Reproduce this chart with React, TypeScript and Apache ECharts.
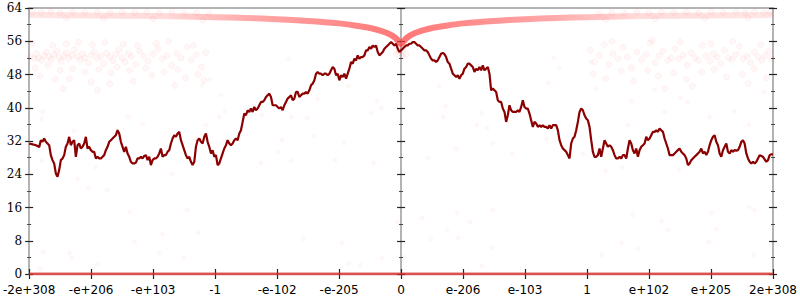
import React, { useEffect, useRef } from "react";
import * as echarts from "echarts";

const xTickLabels = ["-2e+308", "-e+206", "-e+103", "-1", "-e-102", "-e-205", "0", "e-206", "e-103", "1", "e+102", "e+205", "2e+308"];

// dark red walk, negative half (left to centre)
const walkLeft = [
  31.3, 31.3, 31.2, 31.1, 31.0, 30.8, 30.5, 32.2, 31.8, 32.6,
  31.8, 31.4, 31.0, 28.6, 27.4, 26.6, 24.2, 23.4, 25.0, 27.4,
  27.8, 28.6, 30.6, 31.4, 33.0, 31.0, 31.8, 32.2, 28.2, 31.0,
  31.4, 30.2, 30.6, 31.4, 33.0, 30.2, 30.6, 29.8, 29.4, 29.4,
  27.8, 28.2, 27.8, 27.8, 28.2, 28.6, 29.8, 30.6, 31.8, 32.2,
  32.6, 33.0, 33.4, 34.6, 33.8, 31.8, 30.6, 29.4, 30.6, 29.0,
  28.2, 27.0, 26.6, 26.6, 26.8, 27.8, 27.8, 28.2, 27.8, 28.4,
  28.6, 27.4, 28.2, 26.2, 27.4, 27.8, 27.8, 28.2, 29.0, 30.2,
  28.2, 28.6, 28.6, 29.4, 29.8, 31.4, 32.6, 33.4, 33.0, 33.8,
  34.2, 32.2, 31.0, 29.8, 28.6, 27.8, 28.2, 27.0, 26.2, 27.0,
  30.6, 32.2, 32.6, 31.8, 31.4, 33.0, 33.8, 31.8, 30.6, 29.0,
  29.8, 28.2, 28.6, 26.2, 26.6, 27.8, 29.0, 30.2, 31.0, 32.2,
  31.4, 31.0, 31.4, 32.2, 32.6, 32.2, 33.8, 34.6, 36.6, 38.6,
  38.2, 39.4, 39.0, 39.8, 39.0, 40.2, 39.4, 39.8, 40.6, 41.4,
  41.4, 41.8, 42.6, 43.0, 43.4, 42.6, 40.6, 40.6, 40.6, 40.2,
  39.8, 40.2, 39.4, 40.6, 41.4, 42.2, 42.6, 43.0, 41.8, 42.2,
  43.8, 43.8, 42.6, 43.0, 43.4, 43.4, 43.8, 43.4, 44.2, 45.4,
  45.8, 46.6, 48.2, 48.6, 48.2, 48.2, 47.8, 48.2, 48.2, 47.8,
  48.2, 49.0, 49.8, 49.4, 47.8, 48.2, 46.6, 47.8, 47.4, 48.2,
  47.0, 48.2, 49.4, 51.0, 50.6, 51.8, 51.4, 52.6, 51.8, 52.2,
  52.2, 52.6, 53.8, 53.8, 54.6, 54.2, 55.0, 54.6, 55.0, 53.4,
  52.6, 53.0, 53.4, 54.2, 54.6, 55.0, 55.4, 55.8, 55.4, 55.0,
  55.4, 54.2, 53.4, 53.8,
];

// dark red walk, positive half (centre to right)
const walkRight = [
  54.2, 54.6, 55.0, 55.0, 55.4, 55.4, 55.8, 55.8, 55.4, 55.0,
  55.0, 54.6, 54.2, 53.8, 53.8, 53.4, 52.6, 51.8, 51.4, 51.4,
  51.0, 51.4, 52.2, 53.0, 53.2, 52.9, 52.2, 51.0, 50.6, 49.4,
  48.2, 47.8, 47.4, 47.8, 47.0, 47.8, 48.2, 49.4, 49.8, 50.6,
  50.6, 50.2, 49.8, 48.6, 49.4, 49.0, 49.8, 49.0, 50.2, 49.0,
  49.4, 49.8, 48.2, 44.2, 44.6, 44.2, 43.8, 41.8, 41.4, 41.4,
  39.8, 39.0, 36.6, 38.2, 40.6, 39.4, 39.0, 39.0, 39.0, 39.4,
  39.0, 40.2, 41.8, 40.2, 39.8, 39.8, 38.6, 37.0, 35.4, 36.6,
  36.2, 35.4, 35.8, 35.4, 35.8, 35.4, 35.4, 35.0, 35.8, 35.0,
  35.8, 35.8, 35.8, 34.6, 32.2, 31.0, 30.2, 29.8, 29.4, 28.6,
  27.8, 31.4, 32.6, 33.0, 34.6, 36.6, 39.0, 39.8, 39.4, 38.2,
  37.4, 37.0, 35.4, 32.2, 29.4, 28.2, 28.2, 28.6, 30.2, 28.2,
  30.2, 32.2, 31.4, 30.6, 31.0, 30.6, 29.8, 28.6, 27.8, 27.8,
  28.2, 27.8, 28.6, 28.6, 27.8, 30.2, 32.2, 31.4, 29.8, 29.0,
  30.2, 28.2, 29.8, 30.6, 31.0, 31.4, 33.0, 32.2, 32.6, 33.4,
  34.2, 34.2, 34.6, 34.2, 35.0, 34.6, 34.2, 32.6, 31.4, 30.2,
  28.6, 28.6, 28.6, 29.0, 29.4, 29.8, 30.2, 29.4, 29.0, 28.6,
  27.8, 26.2, 26.6, 27.4, 27.8, 28.2, 28.6, 29.0, 29.4, 30.2,
  29.0, 29.4, 28.6, 29.4, 31.0, 32.2, 33.0, 33.4, 31.8, 31.0,
  29.0, 28.2, 29.8, 30.6, 31.4, 29.4, 29.0, 29.8, 29.4, 29.8,
  29.7, 29.8, 30.6, 31.8, 32.2, 31.4, 29.0, 27.8, 27.0, 26.6,
  27.0, 26.6, 27.0, 27.8, 28.6, 28.4, 28.2, 27.6, 27.0, 27.4,
  28.6, 28.8, 28.8,
];

// pale red V-shaped band
const curveX = [-6, -5, -4, -3, -2.5, -2, -1.5, -1, -0.75, -0.5, -0.35, -0.2, -0.1, -0.04, 0, 0.04, 0.1, 0.2, 0.35, 0.5, 0.75, 1, 1.5, 2, 2.5, 3, 4, 5, 6];
const curveY = [62.3, 62.2, 62.1, 61.8, 61.6, 61.3, 60.9, 60.3, 59.8, 59.2, 58.6, 57.8, 56.9, 56.0, 55.3, 56.0, 56.9, 57.8, 58.6, 59.2, 59.8, 60.3, 60.9, 61.3, 61.6, 61.8, 62.1, 62.2, 62.3];

// pale red band along zero
const zeroX = [-6, 6];
const zeroY = [0, 0];

// faint scatter clouds
const leftCluster = [
  [-5.98, 52.4], [-5.92, 51.8], [-5.88, 53.0], [-5.85, 52.0], [-5.80, 51.4], [-5.76, 52.6], [-5.72, 53.4], [-5.68, 52.2],
  [-5.64, 51.6], [-5.60, 52.8], [-5.55, 53.6], [-5.52, 52.1], [-5.48, 51.2], [-5.44, 52.5], [-5.40, 53.2], [-5.36, 51.9],
  [-5.31, 52.7], [-5.27, 54.0], [-5.22, 52.3], [-5.18, 51.5], [-5.14, 53.0], [-5.10, 52.0], [-5.05, 50.8], [-5.00, 52.6],
  [-4.95, 53.5], [-4.90, 51.9], [-4.85, 52.4], [-4.80, 50.6], [-4.75, 53.1], [-4.70, 52.2], [-4.65, 51.3], [-4.60, 52.8],
  [-4.55, 54.0], [-4.50, 52.0], [-4.45, 51.0], [-4.40, 53.0], [-4.35, 52.3], [-4.28, 50.4], [-4.22, 53.6], [-4.15, 52.4],
  [-4.08, 51.2], [-4.00, 52.9], [-3.92, 54.2], [-3.85, 51.8], [-3.78, 52.5], [-3.70, 50.2], [-3.62, 53.1], [-3.55, 52.0],
  [-3.45, 54.6], [-3.38, 51.5], [-3.30, 52.7], [-3.22, 49.8], [-3.15, 53.3],
  [-5.95, 55.6], [-5.90, 49.6], [-5.70, 50.2], [-5.62, 55.0], [-5.50, 49.0], [-5.40, 55.4], [-5.30, 49.4], [-5.20, 55.8],
  [-5.10, 48.6], [-4.98, 55.2], [-4.88, 49.2], [-4.78, 55.7], [-4.68, 48.4], [-4.58, 49.8], [-4.48, 55.3], [-4.38, 48.9],
  [-4.25, 55.0], [-4.12, 49.5], [-4.02, 47.8], [-3.95, 55.5], [-3.82, 48.6], [-3.75, 56.0], [-3.60, 49.2], [-3.48, 47.2],
  [-3.35, 55.0], [-3.28, 48.0], [-3.18, 46.6], [-5.82, 47.6], [-5.58, 46.8], [-5.35, 47.0], [-5.00, 46.2], [-4.70, 45.8],
  [-4.32, 46.4], [-3.65, 45.4], [-5.45, 44.6], [-4.90, 44.2],
];
const rightCluster = [
  [3.05, 53.8], [3.12, 51.0], [3.20, 52.6], [3.28, 55.2], [3.35, 50.4], [3.42, 53.0], [3.50, 51.8], [3.58, 54.6],
  [3.65, 52.2], [3.72, 49.6], [3.80, 53.4], [3.88, 51.6], [3.95, 52.8], [4.02, 55.6], [4.10, 50.8], [4.16, 52.4],
  [4.22, 53.6], [4.30, 51.4], [4.36, 52.0], [4.42, 54.2], [4.48, 51.8], [4.55, 52.6], [4.62, 50.2], [4.68, 53.2],
  [4.74, 52.0], [4.80, 51.4], [4.86, 55.0], [4.92, 52.4], [4.98, 51.2], [5.04, 53.0], [5.10, 52.2], [5.16, 50.6],
  [5.22, 53.8], [5.28, 52.0], [5.34, 51.6], [5.40, 52.8], [5.46, 54.8], [5.52, 51.8], [5.58, 52.4], [5.64, 50.8],
  [5.70, 53.4], [5.76, 52.2], [5.82, 51.4], [5.88, 52.6], [5.94, 53.6], [5.98, 51.8],
  [3.10, 48.2], [3.30, 47.0], [3.55, 48.8], [3.75, 46.4], [3.98, 49.0], [4.15, 47.6], [4.40, 48.4], [4.60, 46.8],
  [4.85, 48.6], [5.05, 49.2], [5.25, 47.4], [5.50, 48.0], [5.70, 49.4], [5.90, 47.2], [4.05, 56.2], [4.50, 55.8],
  [5.00, 55.4], [5.35, 56.0], [5.80, 55.2], [3.40, 56.0], [4.70, 45.2], [5.60, 45.8], [4.25, 44.6],
];
const topBand = [
  [-5.95, 63.0], [-5.80, 62.9], [-5.65, 63.1], [-5.50, 62.8], [-5.30, 63.0], [-5.10, 62.9], [-4.90, 63.1], [-4.70, 62.8],
  [-4.50, 63.0], [-4.30, 62.9], [-4.10, 63.1], [-3.90, 62.8], [-3.70, 63.0], [-3.50, 62.7], [-3.30, 62.9], [-3.10, 62.6],
  [-5.40, 61.6], [-4.80, 61.5], [-4.00, 61.4], [-3.20, 61.1],
  [5.95, 63.0], [5.85, 62.9], [5.70, 63.1], [5.55, 62.8], [5.40, 63.0], [5.20, 62.9], [5.00, 63.1], [4.80, 62.8],
  [4.60, 63.0], [4.40, 62.9], [4.20, 63.0], [4.00, 62.8], [3.80, 63.0], [3.60, 62.7], [3.40, 62.9], [3.20, 62.6],
  [5.60, 61.6], [4.90, 61.5], [4.10, 61.4], [3.30, 61.2],
];
const centerCloud = [
  [-0.08, 55.0], [-0.05, 54.2], [-0.03, 53.4], [0.0, 54.6], [0.03, 53.8], [0.06, 55.2], [0.08, 52.8], [-0.07, 53.0],
  [0.02, 52.4], [-0.02, 55.6],
];
const sparse = [
  [-4.38, 14.9], [-4.30, 7.7], [-3.85, 9.6], [-3.90, 5.0], [-5.35, 5.0], [-5.32, 3.8], [-4.90, 2.4], [-5.82, 1.2],
  [-3.45, 15.4], [-3.27, 9.9], [-3.51, 3.8], [-5.77, 5.3], [-1.58, 8.4], [-0.95, 7.5], [-0.84, 2.6], [-0.66, 2.2],
  [-0.31, 3.8], [-0.06, 12.5], [0.06, 4.1], [0.34, 13.5], [0.48, 8.4], [0.74, 10.6], [0.90, 14.7], [0.92, 8.7],
  [1.11, 12.5], [1.30, 1.9], [1.48, 15.4], [1.47, 6.3], [3.74, 14.2], [4.20, 12.8], [4.30, 10.6], [3.56, 7.5],
  [3.82, 6.0], [5.01, 14.7], [5.09, 10.8], [4.96, 7.7], [5.69, 4.6], [5.62, 16.1], [5.70, 15.4], [3.24, 4.6],
  [-5.78, 39.0], [-5.80, 37.3], [-5.28, 34.4], [-4.40, 37.8], [-4.17, 36.1], [-5.80, 27.2], [-4.93, 25.7], [-5.22, 22.9],
  [-5.04, 20.7], [-4.74, 20.2], [-4.16, 26.2], [-3.70, 24.1], [-3.30, 32.5], [-3.08, 46.9], [-3.21, 45.5], [-2.90, 43.1],
  [-2.84, 39.2], [-3.14, 35.9], [-2.93, 37.8], [-2.24, 38.3], [-1.82, 51.7], [-1.35, 42.1], [-0.85, 45.2], [-0.39, 41.6],
  [-0.48, 38.7], [-0.32, 39.9], [-1.51, 37.5], [-1.77, 37.8], [-1.92, 32.2], [-1.40, 33.2], [-1.97, 29.4], [-1.77, 27.2],
  [-1.06, 27.4], [-0.92, 31.5], [-2.26, 26.7], [-0.45, 26.7], [2.46, 52.0], [2.55, 49.6], [3.06, 51.0], [2.38, 46.0],
  [3.14, 44.5], [0.61, 45.2], [0.72, 40.4], [1.30, 38.7], [0.68, 37.8], [1.22, 35.9], [1.39, 35.1], [1.48, 31.5],
  [0.89, 30.1], [1.80, 28.9], [2.35, 32.5], [2.66, 30.8], [2.93, 28.9], [0.43, 27.9], [3.72, 41.6], [4.09, 44.3],
  [4.51, 42.3], [4.62, 41.4], [4.25, 39.0], [4.98, 37.8], [5.38, 39.2], [5.61, 35.9], [5.85, 43.8], [3.66, 35.9],
  [3.30, 24.8], [3.56, 25.7], [4.48, 25.0], [5.09, 33.2],
];

export default function App() {
  const ref = useRef<HTMLDivElement>(null);
  useEffect(() => {
    if (!ref.current) return;
    const chart = echarts.init(ref.current, undefined, { renderer: "svg" });
    const walk = [...walkLeft, ...walkRight];
    const n = walk.length;
    const walkData = walk.map((v, i) => [-6 + (12 * i) / (n - 1), v]);
    const curveData = curveX.map((x, i) => [x, curveY[i]]);
    const zeroData = zeroX.map((x, i) => [x, zeroY[i]]);
    const dense = [...leftCluster, ...rightCluster, ...topBand, ...centerCloud];

    const tickStyle = { color: "#222", width: 1.2 };
    const minorStyle = { color: "#444", width: 1 };
    const gray = { color: "#b3b3b3", width: 2 };
    const yCommon = (extra: any) => ({
      type: "value",
      min: 0,
      max: 64,
      interval: 8,
      splitLine: { show: false },
      axisLabel: { show: false },
      ...extra,
    });
    const yLabel = {
      show: true,
      margin: 7,
      color: "#000",
      fontFamily: "DejaVu Serif",
      fontSize: 12,
    };
    const xCommon = (extra: any) => ({
      type: "value",
      min: -6,
      max: 6,
      interval: 1,
      splitLine: { show: false },
      axisLabel: { show: false },
      ...extra,
    });

    chart.setOption({
      animation: false,
      backgroundColor: "#fff",
      grid: { left: 28, right: 27, top: 8, bottom: 26 },
      xAxis: [
        xCommon({
          position: "bottom",
          axisLine: { show: true, onZero: false, lineStyle: gray },
          axisTick: { show: true, length: 5, lineStyle: tickStyle },
          axisLabel: {
            show: true,
            margin: 10,
            color: "#000",
            fontFamily: "DejaVu Sans",
            fontSize: 12,
            showMinLabel: true,
            showMaxLabel: true,
            formatter: (v: number) => xTickLabels[Math.round(v) + 6],
          },
        }),
        xCommon({
          position: "bottom",
          axisLine: { show: false, onZero: false },
          axisTick: { show: true, inside: true, length: 5, lineStyle: tickStyle },
        }),
        xCommon({
          position: "top",
          axisLine: { show: true, onZero: false, lineStyle: gray },
          axisTick: { show: false },
        }),
      ],
      yAxis: [
        yCommon({
          position: "left",
          axisLine: { show: true, onZero: false, lineStyle: gray },
          axisTick: { show: true, length: 4, lineStyle: tickStyle },
          minorTick: { show: true, splitNumber: 2, length: 2, lineStyle: minorStyle },
          axisLabel: yLabel,
        }),
        yCommon({
          position: "left",
          axisLine: { show: false, onZero: false },
          axisTick: { show: true, inside: true, length: 4, lineStyle: tickStyle },
          minorTick: { show: true, splitNumber: 2, length: 2, lineStyle: minorStyle },
        }),
        yCommon({
          position: "right",
          axisLine: { show: true, onZero: false, lineStyle: gray },
          axisTick: { show: true, length: 4, lineStyle: tickStyle },
          minorTick: { show: true, splitNumber: 2, length: 2, lineStyle: minorStyle },
        }),
        yCommon({
          position: "right",
          axisLine: { show: false, onZero: false },
          axisTick: { show: true, inside: true, length: 4, lineStyle: tickStyle },
          minorTick: { show: true, splitNumber: 2, length: 2, lineStyle: minorStyle },
        }),
        yCommon({
          position: "left",
          axisLine: { show: true, onZero: true, onZeroAxisIndex: 0, lineStyle: gray },
          axisTick: { show: true, length: 4, lineStyle: tickStyle },
          minorTick: { show: true, splitNumber: 2, length: 2, lineStyle: minorStyle },
        }),
        yCommon({
          position: "left",
          axisLine: { show: true, onZero: true, onZeroAxisIndex: 0, lineStyle: gray },
          axisTick: { show: true, inside: true, length: 4, lineStyle: tickStyle },
          minorTick: { show: true, splitNumber: 2, length: 2, lineStyle: minorStyle },
        }),
      ],
      series: [
        {
          type: "scatter",
          data: dense,
          symbol: "circle",
          symbolSize: 6,
          itemStyle: {
            color: "rgba(255,0,0,0.04)",
            borderColor: "rgba(255,0,0,0.06)",
            borderWidth: 1,
          },
          silent: true,
          z: 1,
        },
        {
          type: "scatter",
          data: sparse,
          symbol: "circle",
          symbolSize: 5,
          itemStyle: { color: "rgba(255,0,0,0.045)" },
          silent: true,
          z: 1,
        },
        {
          type: "line",
          data: zeroData,
          showSymbol: false,
          lineStyle: { color: "rgba(225,45,45,0.72)", width: 3 },
          silent: true,
          z: 3,
        },
        {
          type: "line",
          data: curveData,
          showSymbol: false,
          smooth: 0.2,
          lineStyle: {
            width: 6,
            color: new echarts.graphic.LinearGradient(0, 0, 1, 0, [
              { offset: 0, color: "rgba(255,60,60,0.12)" },
              { offset: 0.18, color: "rgba(255,60,60,0.18)" },
              { offset: 0.3, color: "rgba(255,60,60,0.45)" },
              { offset: 0.5, color: "rgba(255,60,60,0.7)" },
              { offset: 0.7, color: "rgba(255,60,60,0.45)" },
              { offset: 0.82, color: "rgba(255,60,60,0.18)" },
              { offset: 1, color: "rgba(255,60,60,0.12)" },
            ]),
          },
          silent: true,
          z: 4,
        },
        {
          type: "line",
          data: walkData,
          showSymbol: false,
          lineStyle: { color: "#8b0000", width: 2.2 },
          silent: true,
          z: 5,
        },
      ],
    });
    return () => chart.dispose();
  }, []);
  return (
    <div
      ref={ref}
      style={{ position: "fixed", left: 0, top: 0, width: 800, height: 300, background: "#fff" }}
    />
  );
}
